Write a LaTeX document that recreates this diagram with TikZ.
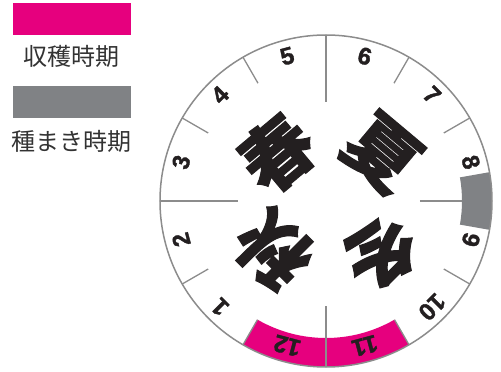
\documentclass[tikz,border=0pt]{standalone}
\usepackage{fontspec}
\setmainfont{Liberation Sans}
\newfontfamily\numfont{Liberation Sans}[BoldFeatures={FakeBold=1.5}]
\newfontfamily\cjk{Noto Sans CJK JP}
\newfontfamily\cjkheavy{Noto Sans CJK JP}[BoldFeatures={FakeBold=1.5}]
\definecolor{harvest}{HTML}{E6007E}
\definecolor{sow}{HTML}{808285}
\definecolor{rim}{HTML}{8C8C8C}
\definecolor{ink}{HTML}{231F20}
\definecolor{legtext}{HTML}{333333}
\tikzset{
  tick/.style={draw=rim, line width=1.3pt},
  monthlabel/.style={font=\numfont\bfseries\fontsize{24}{24}\selectfont, text=ink, inner sep=0pt},
  season/.style={font=\cjkheavy\bfseries\fontsize{72}{72}\selectfont, text=ink, inner sep=0pt,
    text height=58pt, text depth=3pt},
  legendtext/.style={font=\cjk\fontsize{24}{24}\selectfont, text=legtext, inner sep=0pt},
}
\begin{document}
\begin{tikzpicture}[x=1pt,y=1pt]
\useasboundingbox (-326,-171) rectangle (175,201);
% legend
\fill[harvest] (-313,166) rectangle (-195,198);
\node[legendtext] (lh) at (-254,145) {収穫時期};
\fill[sow] (-313,83) rectangle (-195,115);
\node[legendtext] (ls) at (-254,60) {種まき時期};
% dial
\coordinate (c) at (0,0);
\fill[white] (c) circle (166);
% minor ticks
\foreach \a in {30,60,120,150,210,330}
  \draw[tick] (\a:136) -- (\a:166);
\draw[tick] (90:99) -- (90:166);
\draw[tick] (180:88) -- (180:166);
\draw[tick] (0:94) -- (0:166);
% sowing band
\fill[sow] (-10:136) arc (-10:10:136) -- (10:166) arc (10:-10:166) -- cycle;
% harvest band (months 11, 12)
\fill[harvest] (240:137) arc (240:300:137) -- (300:166) arc (300:240:166) -- cycle;
\draw[tick] (240:137) -- (240:166);
\draw[tick] (300:137) -- (300:166);
\draw[tick] (270:105) -- (270:166);
\draw[rim, line width=1.5pt] (c) circle (166);
% month labels
\foreach \m/\a in {1/225,2/195,3/165,4/135,5/105,6/75,7/45,8/15,9/-15,10/-45,11/-75,12/-105}
  \node[monthlabel, rotate=\a-90] (m\m) at (\a:150) {\m};
% seasons
\node[season, rotate=40] (spring) at (-49,48) {春};
\node[season, rotate=-40] (summer) at (57,49) {夏};
\node[season, rotate=135] (autumn) at (-53,-49) {秋};
\node[season, rotate=-135] (winter) at (54,-52) {冬};
\end{tikzpicture}
\end{document}
